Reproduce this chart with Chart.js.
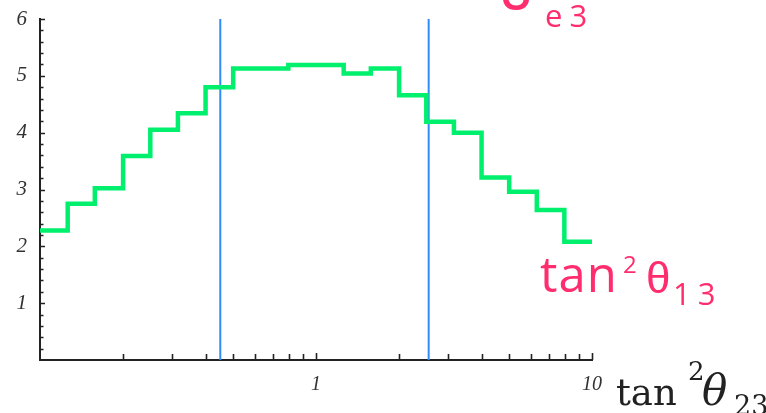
<!DOCTYPE html>
<html>
<head>
<meta charset="utf-8">
<script src="https://cdn.jsdelivr.net/npm/chart.js@4.4.0/dist/chart.umd.min.js"></script>
<style>
  body { margin: 0; background: #fff; }
  #wrap { width: 766px; height: 413px; position: relative; }
</style>
</head>
<body>
<div id="wrap"><canvas id="histChart"></canvas></div>
<script>
// histogram bins in tan^2 theta23 (0.1 decade wide)
const binEdges = [0.1, 0.126, 0.158, 0.2, 0.251, 0.316, 0.398, 0.501, 0.631, 0.794,
                  1, 1.26, 1.58, 2, 2.51, 3.16, 3.98, 5.01, 6.31, 7.94, 10];
const binValues = [2.28, 2.75, 3.02, 3.59, 4.05, 4.34, 4.80, 5.13, 5.13, 5.19,
                   5.19, 5.04, 5.13, 4.66, 4.19, 4.00, 3.21, 2.96, 2.64, 2.08];
// allowed range markers
const cutLow = 0.45;
const cutHigh = 2.56;
// tick marks
const xTickValues = [0.2, 0.3, 0.4, 0.5, 0.6, 0.7, 0.8, 0.9, 1, 2, 3, 4, 5, 6, 7, 8, 9, 10];
const xMajor = [1, 10];
const yTickValues = [0.2, 0.4, 0.6, 0.8, 1, 1.2, 1.4, 1.6, 1.8, 2, 2.2, 2.4, 2.6, 2.8, 3,
                     3.2, 3.4, 3.6, 3.8, 4, 4.2, 4.4, 4.6, 4.8, 5, 5.2, 5.4, 5.6, 5.8, 6];

// the last edge closes the final bin
const stepPoints = binEdges.map((e, i) => ({ x: e, y: binValues[Math.min(i, binValues.length - 1)] }));

const pink = '#ff2d6e';

// ticks pointing into the plot, like the original
const innerTicks = {
  id: 'innerTicks',
  afterDraw(chart) {
    const { ctx, scales: { x, y } } = chart;
    ctx.save();
    ctx.strokeStyle = '#222';
    ctx.lineWidth = 1.6;
    ctx.beginPath();
    xTickValues.forEach(v => {
      const px = Math.round(x.getPixelForValue(v)) + 0.5;
      const len = xMajor.includes(v) ? 7 : 6;
      ctx.moveTo(px, y.bottom);
      ctx.lineTo(px, y.bottom - len);
    });
    yTickValues.forEach(v => {
      const py = Math.round(y.getPixelForValue(v)) + 0.5;
      const len = Number.isInteger(v) ? 5 : 3.5;
      ctx.moveTo(x.left, py);
      ctx.lineTo(x.left + len, py);
    });
    ctx.stroke();
    ctx.restore();
  }
};

// write text letter by letter with extra spacing
function spaced(ctx, text, x, y, gap) {
  for (const ch of text) {
    ctx.fillText(ch, x, y);
    x += ctx.measureText(ch).width + gap;
  }
}

// labels drawn on top of the figure
const labels = {
  id: 'labels',
  afterDraw(chart) {
    const ctx = chart.ctx;
    ctx.save();
    ctx.textBaseline = 'alphabetic';
    ctx.textAlign = 'left';
    ctx.fillStyle = pink;
    // U_e3 (cut at the top edge)
    ctx.font = '600 46px "Open Sans"';
    ctx.fillText('U', 499, 10);
    ctx.font = '500 31px "Open Sans"';
    spaced(ctx, 'e3', 545, 27, 7);
    // tan^2 theta13
    ctx.font = '500 49px "Open Sans"';
    spaced(ctx, 'tan', 540, 292, 1);
    ctx.font = '500 24px "Open Sans"';
    ctx.fillText('2', 623, 273);
    ctx.font = '44px "Liberation Sans"';
    ctx.fillText('\u03b8', 646, 293);
    ctx.font = '500 31px "Open Sans"';
    spaced(ctx, '13', 673, 305, 7);
    // axis title tan^2 theta23
    ctx.fillStyle = '#222';
    ctx.font = '37px "DejaVu Serif"';
    ctx.fillText('tan', 616, 405);
    ctx.font = '26px "DejaVu Serif"';
    ctx.fillText('2', 688, 380);
    ctx.font = 'italic 42px "DejaVu Serif"';
    ctx.fillText('\u03b8', 702, 405);
    ctx.font = '27px "DejaVu Serif"';
    ctx.fillText('23', 734, 415);
    ctx.restore();
  }
};

const ctx = document.getElementById('histChart');
new Chart(ctx, {
  type: 'line',
  data: {
    datasets: [
      {
        data: stepPoints,
        stepped: 'before',
        borderColor: '#00f06e',
        borderWidth: 4.5,
        pointRadius: 0,
        fill: false
      },
      {
        data: [{ x: cutLow, y: 0 }, { x: cutLow, y: 6 }],
        borderColor: '#2f8cff',
        borderWidth: 2,
        pointRadius: 0
      },
      {
        data: [{ x: cutHigh, y: 0 }, { x: cutHigh, y: 6 }],
        borderColor: '#2f8cff',
        borderWidth: 2,
        pointRadius: 0
      }
    ]
  },
  options: {
    responsive: true,
    maintainAspectRatio: false,
    animation: false,
    layout: { padding: { left: 0, top: 19, right: 174, bottom: 0 } },
    plugins: { legend: { display: false }, tooltip: { enabled: false } },
    scales: {
      x: {
        type: 'logarithmic',
        min: 0.1,
        max: 10,
        afterFit: s => { s.height = 53; },
        grid: { display: false },
        border: { display: true, color: '#222', width: 2 },
        ticks: {
          autoSkip: false,
          maxRotation: 0,
          padding: 5,
          color: '#333',
          font: { family: 'Liberation Serif', style: 'italic', size: 20 },
          callback: v => (Math.abs(v - 1) < 1e-9 ? '1' : Math.abs(v - 10) < 1e-9 ? '10' : '')
        }
      },
      y: {
        min: 0,
        max: 6,
        afterFit: s => { s.width = 40; },
        grid: { display: false },
        border: { display: true, color: '#222', width: 2 },
        ticks: {
          stepSize: 1,
          padding: 5,
          color: '#333',
          font: { family: 'Liberation Serif', style: 'italic', size: 21 },
          callback: v => (v === 0 ? '' : String(v))
        }
      }
    }
  },
  plugins: [innerTicks, labels]
});
</script>
</body>
</html>
